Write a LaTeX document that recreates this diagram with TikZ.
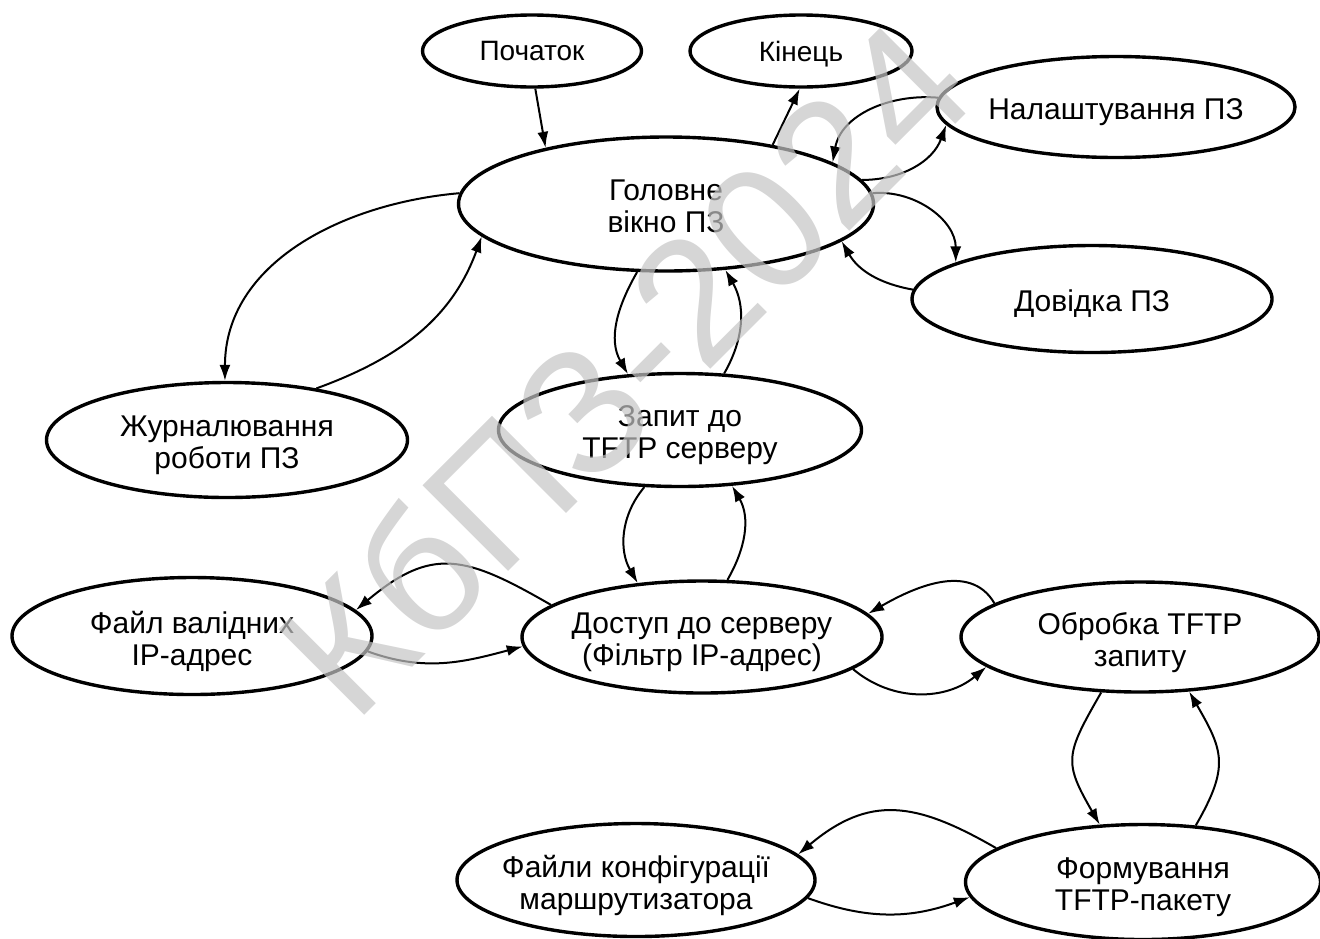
\documentclass[tikz,border=0pt]{standalone}
\usepackage{fontspec}
\setmainfont{Liberation Sans}
\usetikzlibrary{shapes.geometric,arrows.meta}
\definecolor{wmgray}{HTML}{C4C4C4}

\begin{document}
\begin{tikzpicture}[x=0.5pt,y=-0.5pt,
  statetext/.style={font=\fontsize{15}{16}\selectfont,align=center,inner sep=0pt,
    text depth=0pt,yshift=-1pt},
  smalltext/.style={font=\fontsize{14}{16}\selectfont,align=center,inner sep=0pt,
    text depth=0pt},
  state/.style={ellipse,draw,line width=1.7pt,inner sep=0pt,
    label={[statetext]center:#1}},
  smallstate/.style={ellipse,draw,line width=1.7pt,inner sep=0pt,
    label={[smalltext]center:#1}},
  link/.style={line width=1pt,-{Latex[length=8pt,width=5.5pt]}},
  wmark/.style={font=\fontsize{88}{88}\selectfont,text=wmgray,text opacity=0.7,
    rotate=45,anchor=base,inner sep=0pt}]

\useasboundingbox (0,0) rectangle (1320,938);

% states
\node[smallstate={Початок},minimum width=109.5pt,minimum height=36pt] (start) at (532,51) {};
\node[smallstate={Кінець},minimum width=111pt,minimum height=36pt] (finish) at (801,51) {};
\node[state={Налаштування ПЗ},minimum width=179pt,minimum height=50.5pt] (settings) at (1116,107) {};
\node[state={Головне\\вікно ПЗ},minimum width=207.5pt,minimum height=67pt] (main) at (666,204) {};
\node[state={Довідка ПЗ},minimum width=180pt,minimum height=53.5pt] (help) at (1092,299) {};
\node[state={Журналювання\\роботи ПЗ},minimum width=180.5pt,minimum height=57.5pt] (log) at (227,440) {};
\node[state={Запит до\\TFTP серверу},minimum width=181.5pt,minimum height=56.5pt] (req) at (680,430) {};
\node[state={Файл валідних\\IP-адрес},minimum width=180pt,minimum height=58.5pt] (file) at (192,636) {};
\node[state={Доступ до серверу\\(Фільтр IP-адрес)},minimum width=180pt,minimum height=56pt] (access) at (702,637) {};
\node[state={Обробка TFTP\\запиту},minimum width=179pt,minimum height=55pt] (proc) at (1140,637) {};
\node[state={Файли конфігурації\\маршрутизатора},minimum width=179pt,minimum height=56.5pt] (cfg) at (636,880) {};
\node[state={Формування\\TFTP-пакету},minimum width=177.5pt,minimum height=57.5pt] (pkt) at (1143,882) {};

% transitions
\draw[link] (start.-85) -- (main.155);
\draw[link] (main.29) -- (finish.-92);
\draw[link] (settings.177) to[out=175,in=80] (main.14);
\draw[link] (main.7) to[out=0,in=-110] (settings.186);
\draw[link] (main.3) to[out=5,in=90] (help.165);
\draw[link] (help.177) to[out=170,in=-60] (main.-12);
\draw[link] (main.177) to[out=185,in=90] (log.92);
\draw[link] (log.30) to[out=20,in=-110] (main.190);
\draw[link] (main.-113) to[out=-120,in=120] (req.133);
\draw[link] (req.52) to[out=60,in=-60] (main.-48);
\draw[link] (req.-122) to[out=-130,in=120] (access.140);
\draw[link] (access.66) to[out=60,in=-60] (req.-47);
\draw[link] (access.168) to[out=150,in=40,looseness=1.3] (file.9);
\draw[link] (file.-5) to[out=-20,in=-165] (access.183);
\draw[link] (proc.167) to[out=120,in=30] (access.8);
\draw[link] (access.-12) to[out=-40,in=-140] (proc.191);
\draw[link] (proc.-125) to[out=-120,in=120,looseness=1.4] (pkt.127);
\draw[link] (pkt.47) to[out=60,in=-60,looseness=1.3] (proc.-48);
\draw[link] (pkt.167) to[out=150,in=40,looseness=1.2] (cfg.9);
\draw[link] (cfg.-6) to[out=-20,in=-160] (pkt.185);

% watermark
\node[wmark] (wm) at (668,412) {КбПЗ-2024};
\end{tikzpicture}
\end{document}
